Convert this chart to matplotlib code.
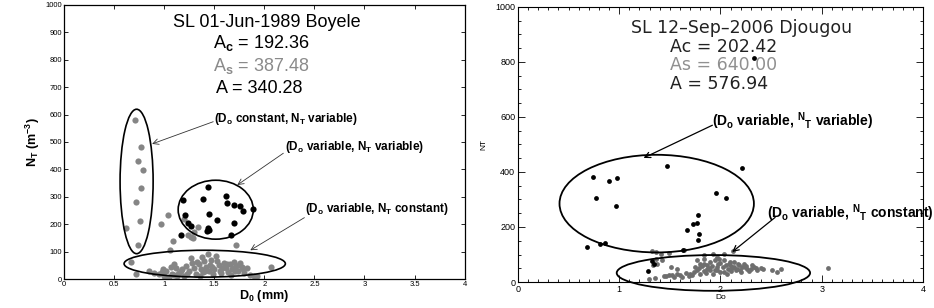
import matplotlib
matplotlib.use("Agg")
import matplotlib.pyplot as plt
from matplotlib.patches import Ellipse
from matplotlib.ticker import MultipleLocator

plt.rcParams["font.family"] = ["Liberation Sans", "DejaVu Sans"]
plt.rcParams["mathtext.fontset"] = "custom"
plt.rcParams["mathtext.rm"] = "Liberation Sans"
plt.rcParams["mathtext.bf"] = "Liberation Sans:bold"
plt.rcParams["mathtext.it"] = "Liberation Sans:italic"

# ---------------- left panel: SL 01-Jun-1989 Boyele ----------------
boy_black_x = [1.19, 1.44, 1.39, 1.62, 1.63, 1.70, 1.76, 1.79, 1.89, 1.21,
               1.45, 1.53, 1.24, 1.27, 1.44, 1.43, 1.45, 1.70, 1.17, 1.67]
boy_black_y = [288, 337, 292, 302, 276, 271, 268, 250, 255, 233,
               237, 215, 205, 193, 185, 176, 180, 205, 162, 162]

boy_gray_x = [0.71, 0.77, 0.74, 0.79, 0.77, 0.72, 0.76, 0.62, 0.74,
              1.04, 0.97, 1.09, 1.06, 1.34, 1.24, 1.27, 1.29, 1.72, 1.30, 1.20,
              0.67, 0.72, 0.85, 0.90, 0.95, 0.98, 1.00, 1.02, 1.05, 1.08, 1.10,
              1.12, 1.15, 1.18, 1.20, 1.22, 1.25, 1.27, 1.30, 1.32, 1.35, 1.37,
              1.38, 1.40, 1.42, 1.44, 1.45, 1.47, 1.50, 1.52, 1.55, 1.57, 1.60,
              1.62, 1.64, 1.66, 1.68, 1.70, 1.72, 1.74, 1.76, 1.78, 1.80, 1.83,
              1.86, 1.90, 1.93, 2.07, 1.03, 1.07, 1.13, 1.17, 1.23, 1.33, 1.36,
              1.41, 1.46, 1.49, 1.53, 1.58, 1.63, 1.67, 1.71, 1.75, 1.79, 1.10,
              1.28, 1.39, 1.48, 1.56, 1.69, 0.99, 1.14]
boy_gray_y = [580, 483, 432, 398, 333, 282, 212, 188, 123,
              235, 200, 139, 107, 190, 162, 154, 148, 123, 172, 218,
              62, 17, 28, 22, 18, 25, 12, 30, 8, 20, 15,
              40, 22, 35, 12, 48, 28, 75, 40, 20, 55, 35,
              82, 65, 45, 90, 28, 70, 38, 85, 50, 22, 60,
              42, 25, 55, 35, 62, 48, 30, 58, 45, 22, 40,
              15, 10, 12, 45, 5, 45, 10, 28, 18, 62, 10,
              30, 52, 18, 65, 40, 55, 15, 28, 50, 35, 55,
              60, 25, 45, 30, 42, 38, 18]

boy_title = "SL 01-Jun-1989 Boyele"
boy_ac = r"A$_\mathbf{c}$ = 192.36"
boy_as = r"A$_\mathbf{s}$ = 387.48"
boy_a = "A = 340.28"

# ---------------- right panel: SL 12-Sep-2006 Djougou ----------------
djo_black_x = [0.68, 0.74, 0.77, 0.81, 0.86, 0.90, 0.97, 0.98, 1.47, 2.21,
               1.96, 2.05, 1.78, 1.73, 1.77, 1.67, 1.79, 1.78, 1.63, 1.28,
               1.34, 1.32, 2.33]
djo_black_y = [128, 383, 306, 137, 143, 369, 277, 379, 423, 413,
               322, 306, 244, 211, 216, 188, 176, 152, 115, 40,
               67, 75, 814]

djo_gray_x = [1.32, 1.36, 1.41, 1.49, 1.64, 1.84, 1.93, 2.03, 2.12, 1.97,
              1.36, 1.37, 1.33, 1.42, 1.51, 1.57, 1.29, 1.35, 1.44, 1.49,
              1.54, 1.57, 1.60, 1.69, 1.70, 1.74, 1.77, 1.80, 1.84, 1.87,
              1.77, 1.80, 1.84, 1.90, 1.95, 1.98, 2.02, 2.05, 2.08, 2.13,
              2.16, 2.21, 2.26, 2.33, 2.36, 2.51, 2.56, 2.60, 3.06, 1.90,
              1.93, 1.97, 2.03, 2.10, 2.20, 2.28, 2.31, 2.40, 1.84, 2.03,
              2.13, 2.23, 1.97, 1.87, 1.92, 1.72, 1.75, 1.82, 1.86, 1.89,
              1.95, 2.00, 2.07, 2.10, 2.15, 2.18, 2.24, 2.30, 2.35, 2.42,
              1.46, 1.52, 1.62, 1.66, 2.00, 2.06, 2.11, 2.19, 2.25, 1.79,
              1.99, 2.09, 2.17]
djo_gray_y = [113, 109, 103, 107, 115, 97, 103, 101, 113, 91,
              85, 67, 61, 79, 55, 49, 12, 16, 21, 24,
              18, 28, 24, 21, 30, 36, 43, 28, 40, 49,
              79, 67, 67, 73, 79, 67, 55, 61, 67, 55,
              49, 55, 49, 55, 43, 43, 36, 49, 52, 43,
              30, 43, 36, 40, 36, 40, 61, 51, 85, 79,
              73, 67, 55, 61, 57, 25, 55, 60, 34, 52,
              45, 70, 48, 60, 44, 62, 56, 46, 50, 48,
              22, 26, 20, 32, 38, 30, 50, 42, 58, 50,
              84, 74, 64]

djo_title = "SL 12\u2013Sep\u20132006 Djougou"
djo_ac = "Ac = 202.42"
djo_as = "As = 640.00"
djo_a = "A = 576.94"

label_const = r"(D$_\mathbf{o}$ constant, N$_\mathbf{T}$ variable)"
label_varvar = r"(D$_\mathbf{o}$ variable, N$_\mathbf{T}$ variable)"
label_varconst = r"(D$_\mathbf{o}$ variable, N$_\mathbf{T}$ constant)"
label_varvar2 = r"(D$_\mathbf{o}$ variable, $^\mathbf{N}$$_\mathbf{T}$ variable)"
label_varconst2 = r"(D$_\mathbf{o}$ variable, $^\mathbf{N}$$_\mathbf{T}$ constant)"

gray_l = "#858585"
gray_r = "#6e6e6e"

fig = plt.figure(figsize=(9.34, 3.08), dpi=100)

# left axes
ax1 = fig.add_axes([0.0685, 0.094, 0.429, 0.890])
ax1.scatter(boy_gray_x, boy_gray_y, s=20, c=gray_l, linewidths=0, zorder=2)
ax1.scatter(boy_black_x, boy_black_y, s=20, c="black", linewidths=0, zorder=3)
ax1.set_xlim(0, 4)
ax1.set_ylim(0, 1000)
ax1.xaxis.set_major_locator(MultipleLocator(0.5))
ax1.yaxis.set_major_locator(MultipleLocator(100))
ax1.xaxis.set_major_formatter(plt.FuncFormatter(lambda v, p: f"{v:g}"))
ax1.tick_params(direction="in", top=True, right=True, labelsize=5.5, length=3, width=0.6, pad=1.5)
for s in ax1.spines.values():
    s.set_linewidth(0.9)
ax1.set_xlabel(r"D$_\mathbf{0}$ (mm)", fontsize=9, fontweight="bold", labelpad=0)
ax1.set_ylabel(r"N$_\mathbf{T}$ (m$^\mathbf{-3}$)", fontsize=9, fontweight="bold", labelpad=2)

ax1.add_patch(Ellipse((0.725, 356), 0.33, 527, fill=False, lw=1.2, ec="black", zorder=4))
ax1.add_patch(Ellipse((1.515, 253), 0.75, 215, fill=False, lw=1.2, ec="black", zorder=4))
ax1.add_patch(Ellipse((1.405, 56), 1.61, 98, fill=False, lw=1.2, ec="black", zorder=4, clip_on=False))

ax1.text(2.02, 937, boy_title, fontsize=13, ha="center", va="center")
ax1.text(1.49, 861, boy_ac, fontsize=13, ha="left", va="center")
ax1.text(1.49, 776, boy_as, fontsize=13, ha="left", va="center", color="#8a8a8a")
ax1.text(1.52, 696, boy_a, fontsize=13, ha="left", va="center")

arrow = dict(arrowstyle="->", lw=0.6, color="#333333", shrinkA=0, shrinkB=0)
ax1.text(1.50, 583, label_const, fontsize=8.5, fontweight="bold", ha="left", va="center")
ax1.annotate("", xy=(0.88, 493), xytext=(1.49, 574), arrowprops=arrow)
ax1.text(2.21, 483, label_varvar, fontsize=8.5, fontweight="bold", ha="left", va="center")
ax1.annotate("", xy=(1.73, 343), xytext=(2.19, 459), arrowprops=arrow)
ax1.text(2.41, 254, label_varconst, fontsize=8.5, fontweight="bold", ha="left", va="center")
ax1.annotate("", xy=(1.86, 105), xytext=(2.40, 224), arrowprops=arrow)

# right axes
ax2 = fig.add_axes([0.5546, 0.0844, 0.4336, 0.893])
ax2.scatter(djo_gray_x, djo_gray_y, s=12, c=gray_r, linewidths=0, zorder=2)
ax2.scatter(djo_black_x, djo_black_y, s=12, c="black", linewidths=0, zorder=3)
ax2.set_xlim(0, 4)
ax2.set_ylim(0, 1000)
ax2.xaxis.set_major_locator(MultipleLocator(1))
ax2.xaxis.set_minor_locator(MultipleLocator(0.1))
ax2.yaxis.set_major_locator(MultipleLocator(200))
ax2.yaxis.set_minor_locator(MultipleLocator(50))
ax2.tick_params(which="both", direction="in", top=True, right=True, width=0.6)
ax2.tick_params(which="major", length=5, labelsize=6.5, pad=2)
ax2.tick_params(which="minor", length=2.5)
for s in ax2.spines.values():
    s.set_linewidth(0.8)
ax2.set_xlabel("Do", fontsize=6, labelpad=0)
ax2.set_ylabel("NT", fontsize=6, labelpad=6)

ax2.add_patch(Ellipse((1.37, 285), 1.92, 355, fill=False, lw=1.3, ec="black", zorder=4))
ax2.add_patch(Ellipse((1.93, 33), 1.91, 130, fill=False, lw=1.3, ec="black", zorder=4, clip_on=False))

title_font = dict(family="DejaVu Sans", fontsize=12.5, va="center")
ax2.text(2.21, 925, djo_title, ha="center", color="#222222", **title_font)
ax2.text(1.50, 855, djo_ac, ha="left", color="#222222", **title_font)
ax2.text(1.50, 789, djo_as, ha="left", color="#909090", **title_font)
ax2.text(1.50, 721, djo_a, ha="left", color="#222222", **title_font)

arrow2 = dict(arrowstyle="->", lw=0.9, color="black", shrinkA=0, shrinkB=0)
ax2.text(1.92, 585, label_varvar2, fontsize=10, fontweight="bold", ha="left", va="center")
ax2.annotate("", xy=(1.24, 451), xytext=(1.92, 570), arrowprops=arrow2)
ax2.text(2.46, 250, label_varconst2, fontsize=10, fontweight="bold", ha="left", va="center", clip_on=False)
ax2.annotate("", xy=(2.115, 109), xytext=(2.54, 235), arrowprops=arrow2)

fig.savefig("out.png", dpi=100)
